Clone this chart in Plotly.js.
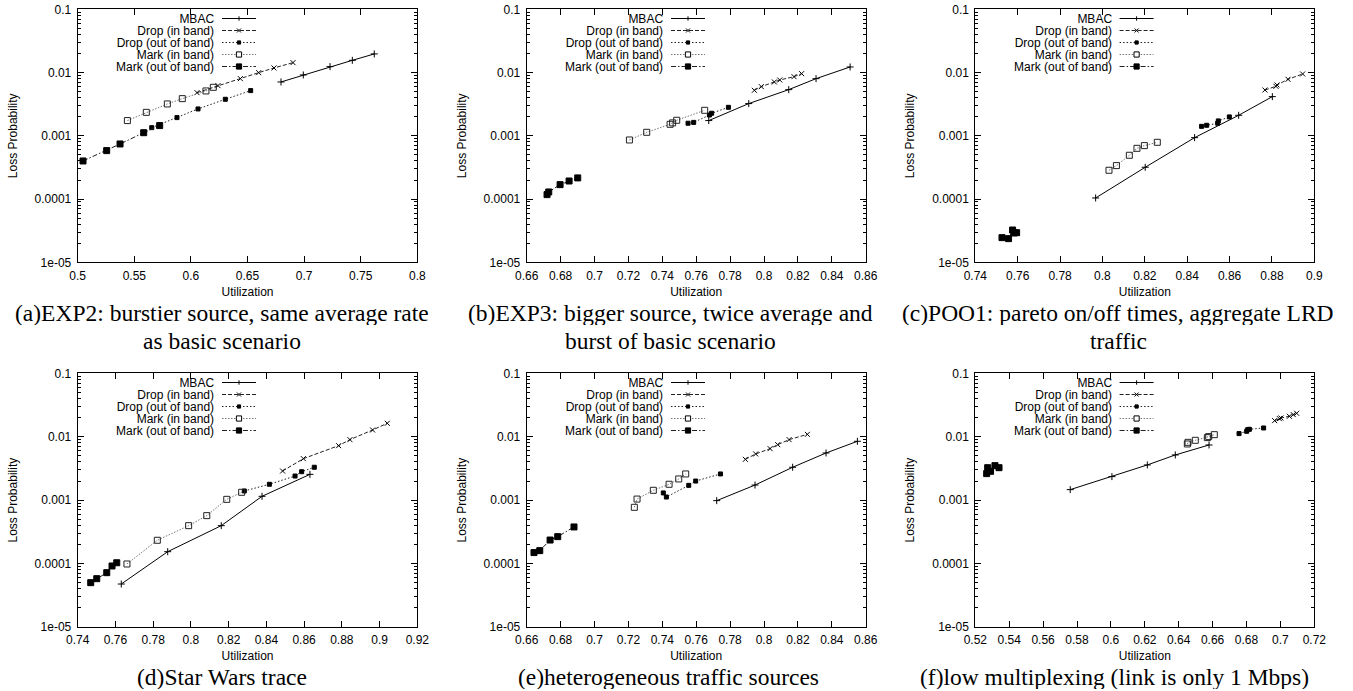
<!DOCTYPE html>
<html><head><meta charset="utf-8">
<script src="https://cdn.plot.ly/plotly-3.0.1.min.js"></script>
<style>html,body{margin:0;padding:0;background:#fff}#chart{width:1353px;height:691px}</style>
</head><body><div id="chart"></div>
<script>
// ---------------- data ----------------
const seriesNames = ['MBAC','Drop (in band)','Drop (out of band)','Mark (in band)','Mark (out of band)'];

// (a) EXP2
const a_mbac_x=[0.6796,0.6993,0.7229,0.7426,0.7620];
const a_mbac_y=[0.0071,0.00916,0.0124,0.0156,0.0197];
const a_dropIn_x=[0.6054,0.6239,0.6437,0.6599,0.6734,0.6902];
const a_dropIn_y=[0.00481,0.00621,0.00801,0.00997,0.01182,0.01435];
const a_dropOut_x=[0.5654,0.5877,0.6063,0.6304,0.6528];
const a_dropOut_y=[0.001346,0.00194,0.00266,0.00378,0.00518];
const a_markIn_x=[0.5439,0.5606,0.5792,0.5924,0.6133,0.6198];
const a_markIn_y=[0.00174,0.00235,0.00319,0.00387,0.00512,0.00584];
const a_markOut_x=[0.5047,0.5256,0.5374,0.5583,0.5724];
const a_markOut_y=[0.000400,0.000583,0.000743,0.00112,0.00145];

// (b) EXP3
const b_mbac_x=[0.7674,0.7910,0.8146,0.8307,0.8508];
const b_mbac_y=[0.00174,0.00323,0.00537,0.00801,0.01225];
const b_dropIn_x=[0.7943,0.7984,0.8061,0.8093,0.8177,0.8222];
const b_dropIn_y=[0.00524,0.00599,0.0071,0.00763,0.00861,0.00962];
const b_dropOut_x=[0.7552,0.7585,0.7678,0.7691,0.7790];
const b_dropOut_y=[0.00158,0.00163,0.00213,0.00227,0.00282];
const b_markIn_x=[0.7206,0.7308,0.7446,0.7461,0.7485,0.7650];
const b_markIn_y=[0.000859,0.001136,0.00152,0.0016,0.00176,0.00253];
const b_markOut_x=[0.6720,0.6730,0.6797,0.6850,0.6901];
const b_markOut_y=[0.0001175,0.0001294,0.000169,0.000193,0.000216];

// (c) POO1
const c_mbac_x=[0.7968,0.8202,0.8435,0.8643,0.8802];
const c_mbac_y=[0.000104,0.000318,0.000935,0.00211,0.00416];
const c_dropIn_x=[0.8767,0.8819,0.8824,0.8876,0.8945];
const c_dropIn_y=[0.0053,0.00606,0.00636,0.00782,0.0095];
const c_dropOut_x=[0.8468,0.8492,0.8544,0.8547,0.8599];
const c_dropOut_y=[0.00141,0.001466,0.00158,0.00172,0.00199];
const c_markIn_x=[0.8031,0.8066,0.8127,0.8163,0.8198,0.8259];
const c_markIn_y=[0.000285,0.000338,0.000492,0.000634,0.0007,0.000789];
const c_markOut_x=[0.7526,0.7557,0.7576,0.7583,0.7595];
const c_markOut_y=[2.455e-5,2.366e-5,3.24e-5,2.91e-5,2.94e-5];

// (d) Star Wars trace
const d_mbac_x=[0.7631,0.7877,0.8161,0.8377,0.8631];
const d_mbac_y=[4.76e-5,0.000154,0.000396,0.00115,0.00255];
const d_dropIn_x=[0.8486,0.8596,0.8783,0.8843,0.8963,0.9041];
const d_dropIn_y=[0.00288,0.00451,0.00723,0.0090,0.01277,0.0163];
const d_dropOut_x=[0.8283,0.8416,0.8552,0.8587,0.8654];
const d_dropOut_y=[0.001395,0.00178,0.0024,0.00281,0.0033];
const d_markIn_x=[0.7661,0.7822,0.7988,0.8084,0.8190,0.8269];
const d_markIn_y=[9.85e-5,0.000233,0.000396,0.00057,0.00103,0.00133];
const d_markOut_x=[0.7469,0.7501,0.7554,0.7582,0.7607];
const d_markOut_y=[5.0e-5,5.78e-5,7.19e-5,9.16e-5,0.000103];

// (e) heterogeneous traffic sources
const e_mbac_x=[0.7721,0.7947,0.8169,0.8366,0.8551];
const e_mbac_y=[0.000982,0.00173,0.0033,0.00554,0.00847];
const e_dropIn_x=[0.7890,0.7951,0.8036,0.8081,0.8148,0.8256];
const e_dropIn_y=[0.0044,0.00535,0.00649,0.0075,0.009,0.0109];
const e_dropOut_x=[0.7406,0.7424,0.7556,0.7597,0.7743];
const e_dropOut_y=[0.0013,0.00112,0.00171,0.002,0.00259];
const e_markIn_x=[0.7235,0.7251,0.7347,0.7440,0.7497,0.7538];
const e_markIn_y=[0.000771,0.00104,0.00143,0.00178,0.00216,0.00259];
const e_markOut_x=[0.6643,0.6677,0.6738,0.6783,0.6879];
const e_markOut_y=[0.000149,0.00016,0.000235,0.000266,0.000378];

// (f) low multiplexing
const f_mbac_x=[0.5760,0.6006,0.6215,0.6380,0.6579];
const f_mbac_y=[0.001465,0.00235,0.00359,0.00516,0.00741];
const f_dropIn_x=[0.6966,0.6994,0.7003,0.7053,0.7076,0.7096];
const f_dropIn_y=[0.01794,0.0193,0.01975,0.021,0.0223,0.0234];
const f_dropOut_x=[0.6756,0.6801,0.6807,0.6817,0.6901];
const f_dropOut_y=[0.0112,0.01218,0.01294,0.0131,0.01374];
const f_markIn_x=[0.6451,0.6455,0.6498,0.6569,0.6577,0.6610];
const f_markIn_y=[0.00769,0.00816,0.00878,0.00968,0.01003,0.01078];
const f_markOut_x=[0.5267,0.5273,0.5290,0.5316,0.5340];
const f_markOut_y=[0.00262,0.00325,0.00285,0.0035,0.00325];

// axes ticks
const yTickVals=[1e-5,1e-4,1e-3,1e-2,0.1];
const yTickText=['1e-05','0.0001','0.001','0.01','0.1'];
const a_xTicks=['0.5','0.55','0.6','0.65','0.7','0.75','0.8'];
const b_xTicks=['0.66','0.68','0.7','0.72','0.74','0.76','0.78','0.8','0.82','0.84','0.86'];
const c_xTicks=['0.74','0.76','0.78','0.8','0.82','0.84','0.86','0.88','0.9'];
const d_xTicks=['0.74','0.76','0.78','0.8','0.82','0.84','0.86','0.88','0.9','0.92'];
const e_xTicks=['0.66','0.68','0.7','0.72','0.74','0.76','0.78','0.8','0.82','0.84','0.86'];
const f_xTicks=['0.52','0.54','0.56','0.58','0.6','0.62','0.64','0.66','0.68','0.7','0.72'];

const captions=[
  ['(a)EXP2: burstier source, same average rate','as basic scenario'],
  ['(b)EXP3: bigger source, twice average and','burst of basic scenario'],
  ['(c)POO1: pareto on/off times, aggregate LRD','traffic'],
  ['(d)Star Wars trace'],
  ['(e)heterogeneous traffic sources'],
  ['(f)low multiplexing (link is only 1 Mbps)']
];
const xTitle='Utilization';
const yTitle='Loss Probability';

// ---------------- build ----------------
const W=1353,H=691;
const panels=[
  {s:[[a_mbac_x,a_mbac_y],[a_dropIn_x,a_dropIn_y],[a_dropOut_x,a_dropOut_y],[a_markIn_x,a_markIn_y],[a_markOut_x,a_markOut_y]],ticks:a_xTicks},
  {s:[[b_mbac_x,b_mbac_y],[b_dropIn_x,b_dropIn_y],[b_dropOut_x,b_dropOut_y],[b_markIn_x,b_markIn_y],[b_markOut_x,b_markOut_y]],ticks:b_xTicks},
  {s:[[c_mbac_x,c_mbac_y],[c_dropIn_x,c_dropIn_y],[c_dropOut_x,c_dropOut_y],[c_markIn_x,c_markIn_y],[c_markOut_x,c_markOut_y]],ticks:c_xTicks},
  {s:[[d_mbac_x,d_mbac_y],[d_dropIn_x,d_dropIn_y],[d_dropOut_x,d_dropOut_y],[d_markIn_x,d_markIn_y],[d_markOut_x,d_markOut_y]],ticks:d_xTicks},
  {s:[[e_mbac_x,e_mbac_y],[e_dropIn_x,e_dropIn_y],[e_dropOut_x,e_dropOut_y],[e_markIn_x,e_markIn_y],[e_markOut_x,e_markOut_y]],ticks:e_xTicks},
  {s:[[f_mbac_x,f_mbac_y],[f_dropIn_x,f_dropIn_y],[f_dropOut_x,f_dropOut_y],[f_markIn_x,f_markIn_y],[f_markOut_x,f_markOut_y]],ticks:f_xTicks}
];
const colPx=[[77.7,417.3],[526.7,865.7],[975.3,1314.3]];
const rowPx=[[9.3,262.3],[373.3,627]];
const capX=[222,670,1118,222,668,1114];

const styles=[
  {dash:'solid',            lc:'#000', sym:'cross-thin-open', size:5, mc:'#000'},
  {dash:'4px,2px',          lc:'#222', sym:'x-thin-open',     size:5, mc:'#000'},
  {dash:'1.5px,2px',        lc:'#222', sym:'square',          size:4, mc:'#000'},
  {dash:'1.5px,1.5px',      lc:'#777', sym:'square-open',     size:6, mc:'#222'},
  {dash:'5px,2px,1.5px,2px',lc:'#222', sym:'square',          size:6, mc:'#000'}
];
const FONT='Liberation Sans, Arial, Helvetica, sans-serif';
const SERIF='Liberation Serif, Times New Roman, serif';
const px2x=p=>p/W, px2y=p=>1-p/H;
const KEY_STEP=12;

const traces=[], shapes=[], annotations=[];
const layout={width:W,height:H,margin:{l:0,r:0,t:0,b:0},paper_bgcolor:'#fff',plot_bgcolor:'#fff',showlegend:false,font:{family:FONT,size:12,color:'#000'}};

panels.forEach((p,i)=>{
  const col=i%3,row=Math.floor(i/3);
  const sfx=i?String(i+1):'';
  const [L,R]=colPx[col],[T,B]=rowPx[row];
  p.s.forEach((xy,k)=>{
    const st=styles[k];
    traces.push({x:xy[0],y:xy[1],name:seriesNames[k],type:'scatter',mode:'lines+markers',
      xaxis:'x'+sfx,yaxis:'y'+sfx,
      line:{color:st.lc,width:1,dash:st.dash},
      marker:{symbol:st.sym,size:st.size,color:st.mc,line:{color:st.mc,width:1}},
      hoverinfo:'skip'});
  });
  const tv=p.ticks.map(Number);
  layout['xaxis'+sfx]={domain:[px2x(L),px2x(R)],anchor:'y'+sfx,range:[tv[0],tv[tv.length-1]],
    tickvals:tv,ticktext:p.ticks,ticks:'inside',ticklen:6,tickcolor:'#000',mirror:'allticks',
    showline:true,linecolor:'#000',linewidth:1,showgrid:false,zeroline:false,ticklabelstandoff:2,
    tickfont:{family:FONT,size:12,color:'#000'},
    title:{text:xTitle,font:{family:FONT,size:12,color:'#000'},standoff:5}};
  layout['yaxis'+sfx]={domain:[px2y(B),px2y(T)],anchor:'x'+sfx,type:'log',range:[-5,-1],
    tickvals:yTickVals,ticktext:yTickText,ticks:'inside',ticklen:6,tickcolor:'#000',mirror:'allticks',
    minor:{ticks:'inside',ticklen:3,dtick:'D1',tickcolor:'#000',showgrid:false},
    showline:true,linecolor:'#000',linewidth:1,showgrid:false,zeroline:false,ticklabelstandoff:3,
    tickfont:{family:FONT,size:12,color:'#000'},
    title:{text:yTitle,font:{family:FONT,size:12,color:'#000'},standoff:14}};
  // custom gnuplot-style key (text left, sample right): one multi-line text block
  const keyText=seriesNames.map(nm=>'<span style="font-size:12px">'+nm+'</span>').join('<br>');
  annotations.push({xref:'paper',yref:'paper',x:px2x(L+137.3),y:px2y(T+9.2+2*KEY_STEP),xanchor:'right',yanchor:'middle',
    align:'right',text:keyText,showarrow:false,borderpad:0,font:{family:FONT,size:KEY_STEP/1.3,color:'#000'}});
  seriesNames.forEach((nm,k)=>{
    const st=styles[k];
    const yy=T+9.2+KEY_STEP*k;
    shapes.push({type:'line',xref:'paper',yref:'paper',x0:px2x(L+144.3),x1:px2x(L+178.3),y0:px2y(yy),y1:px2y(yy),
      line:{color:st.lc,width:1,dash:st.dash}});
    const cx=L+161.3;
    if(k===0){
      shapes.push({type:'line',xref:'paper',yref:'paper',x0:px2x(cx-2.2),x1:px2x(cx+2.2),y0:px2y(yy),y1:px2y(yy),line:{color:'#000',width:1}});
      shapes.push({type:'line',xref:'paper',yref:'paper',x0:px2x(cx),x1:px2x(cx),y0:px2y(yy-2.2),y1:px2y(yy+2.2),line:{color:'#000',width:1}});
    } else if(k===1){
      shapes.push({type:'line',xref:'paper',yref:'paper',x0:px2x(cx-2),x1:px2x(cx+2),y0:px2y(yy-2),y1:px2y(yy+2),line:{color:'#000',width:1}});
      shapes.push({type:'line',xref:'paper',yref:'paper',x0:px2x(cx-2),x1:px2x(cx+2),y0:px2y(yy+2),y1:px2y(yy-2),line:{color:'#000',width:1}});
    } else {
      const h=(k===2)?1.6:2.6;
      shapes.push({type:'rect',xref:'paper',yref:'paper',x0:px2x(cx-h),x1:px2x(cx+h),y0:px2y(yy-h),y1:px2y(yy+h),
        line:{color:'#000',width:1},fillcolor:(k===3)?'#fff':'#000'});
    }
  });
  // captions
  const cap=captions[i];
  const y0=row===0?312:676;
  cap.forEach((t,j)=>{
    annotations.push({xref:'paper',yref:'paper',x:px2x(capX[i]),y:px2y(y0+28*j),xanchor:'center',yanchor:'middle',
      text:t,showarrow:false,height:25,borderpad:0,font:{family:SERIF,size:23.5,color:'#000'}});
  });
});
layout.shapes=shapes;
layout.annotations=annotations;
Plotly.newPlot('chart',traces,layout,{staticPlot:true,displayModeBar:false});
</script>
</body></html>
